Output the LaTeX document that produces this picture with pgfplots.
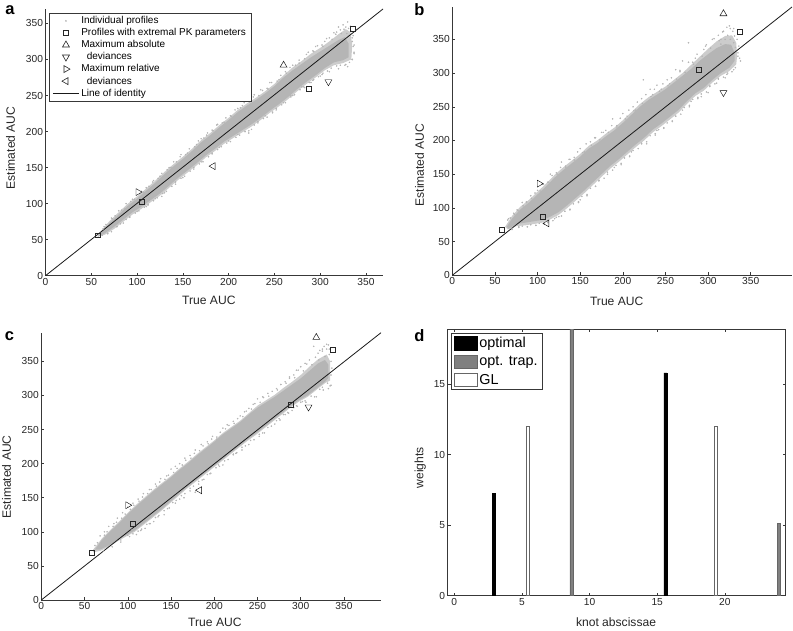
\documentclass[border=0pt]{standalone}
\usepackage{fontspec}
\setmainfont{Liberation Sans}
\usepackage{pgfplots}
\pgfplotsset{compat=1.18}
\definecolor{cloud}{gray}{0.71}
\definecolor{halo}{gray}{0.80}
\definecolor{axc}{gray}{0.22}
\pgfplotsset{
 base/.style={scale only axis, anchor=south west, clip=true,
  tick align=inside, major tick length=3pt, axis line style={axc,line width=0.6pt}, tick style={axc,line width=0.5pt},
  /pgf/number format/assume math mode=true, scaled ticks=false,
  tick label style={font=\fontsize{10.2}{12}\selectfont, color=black!85},
  label style={font=\fontsize{12.1}{14}\selectfont, color=black!85},
  xticklabel style={yshift=1pt}, yticklabel style={xshift=1pt}},
 auc/.style={base, axis lines*=left, xmin=0, ymin=0,
  xtick={0,50,...,350}, ytick={0,50,...,350}, xlabel={True AUC}, ylabel={Estimated AUC}},
 band/.style={forget plot, fill=cloud, draw=none},
 hband/.style={forget plot, fill=halo, draw=none},
 dots/.style={forget plot, only marks, mark=*, mark size=0.55pt, cloud, mark options={draw=none, fill=cloud}},
 idl/.style={forget plot, black!90, line width=0.8pt},
 mk/.style={forget plot, only marks, mark=#1, mark size=4pt, mark options={draw=black!85, fill=none, line width=0.55pt}},
 sq/.style={forget plot, only marks, mark=square, mark size=2.4pt, mark options={draw=black!85, line width=0.7pt}},
}
\pgfplotsset{
 /pgfplots/leg/.style={legend image code/.code={\draw[mark repeat=2,mark phase=2,##1] plot coordinates {(0pt,0pt)(13pt,0pt)(26pt,0pt)};}}
}
\begin{document}
\begin{tikzpicture}[x=1pt,y=1pt]
\path[use as bounding box] (0,0) rectangle (793,630);
% ---------- a
\begin{axis}[auc, at={(45.5pt,354.3pt)}, width=337.5pt, height=266.7pt, xmax=368.6, ymax=370,
 xlabel style={at={(ticklabel cs:0.484)}, yshift=-4pt},
 ylabel style={at={(ticklabel cs:0.479)}, yshift=4pt},
 legend cell align=left,
 legend style={at={(0.0113,0.986)}, anchor=north west, draw=axc, fill=white, line width=0.6pt,
  font=\fontsize{10}{11.9}\selectfont, inner xsep=3pt, inner ysep=1.5pt, row sep=-0.7pt, /tikz/every even column/.append style={column sep=5pt}},
 leg]
\addplot[hband] coordinates {(57,54)(62,64)(70,76)(80,88)(90,100)(100,110)(110,121)(120,132)(130,144)(140,155)(150,165)(160,176)(170,188)(180,198)(190,209)(200,219)(210,230)(220,239)(230,247)(240,256)(250,266)(260,278)(270,289)(280,298)(290,308)(300,316)(310,325)(320,335)(328,342)(333,338)(335,320)(334,300)(325,295)(315,292)(305,285)(295,275)(285,266)(275,256)(265,245)(255,235)(245,226)(235,216)(225,207)(215,199)(205,191)(195,183)(185,173)(175,164)(165,153)(155,143)(145,133)(135,122)(125,111)(115,102)(105,93)(95,85)(85,75)(75,65)(65,57)(57,54)};
\addplot[band] coordinates {(57,54)(62,62)(70,73)(80,85)(90,97)(100,107)(110,118)(120,129)(130,141)(140,152)(150,162)(160,173)(170,185)(180,195)(190,206)(200,216)(210,227)(220,236)(230,244)(240,253)(250,263)(260,275)(270,285)(280,294)(290,303)(300,311)(310,319)(320,327)(327,331)(331,322)(331,303)(325,299)(315,296)(305,288)(295,278)(285,269)(275,259)(265,248)(255,238)(245,229)(235,219)(225,210)(215,202)(205,194)(195,186)(185,176)(175,167)(165,156)(155,146)(145,136)(135,125)(125,114)(115,105)(105,96)(95,88)(85,78)(75,68)(65,59)(57,54)};
\addplot[dots] coordinates {(320,345)(325,348)(330,352)(333,346)(318,338)(310,330)(305,325)(295,318)(285,307)(270,292)(262,283)(245,268)(235,258)(222,242)(210,232)(195,213)(182,202)(170,190)(155,170)(140,158)(125,138)(110,122)(95,106)(80,90)(335,300)(337,310)(337,320)(335,330)(330,290)(320,287)(310,283)(300,277)(290,268)(280,262)(270,250)(260,240)(240,222)(225,203)(222,198)(210,196)(190,178)(170,158)(150,136)(130,115)(120,107)(110,96)(100,89)(85,73)(328,345)(315,337)(302,320)(292,312)(277,295)(255,272)(242,260)(228,251)(215,236)(202,222)(188,210)(176,195)(165,182)(148,168)(135,150)(118,132)(105,117)(88,100)(72,80)(64,68)(327,292)(303,281)(293,272)(283,261)(268,250)(252,232)(248,226)(232,214)(218,200)(200,187)(182,170)(162,150)(142,130)(127,110)(112,98)(92,82)(78,68)(68,58)(62,56)
(63,65)(66,71)(73,79)(76,83)(83,91)(87,93)(93,103)(97,106)(103,114)(107,116)(113,124)(117,130)(123,135)(127,142)(133,147)(137,150)(143,158)(147,165)(153,168)(157,176)(163,179)(167,187)(173,191)(177,198)(183,201)(187,209)(193,212)(197,219)(203,221)(207,230)(213,233)(217,240)(223,241)(227,248)(233,250)(237,257)(243,259)(247,268)(253,270)(257,278)(263,281)(267,289)(273,292)(277,299)(283,301)(287,310)(293,311)(297,319)(303,318)(307,329)(313,328)(317,335)(323,336)(326,342)(329,336)(331,343)(334,339)(322,341)(336,333)(335,325)(336,318)(337,308)
(68,59)(72,61)(78,68)(82,72)(88,78)(92,81)(98,87)(102,90)(108,95)(112,99)(118,104)(122,108)(128,114)(132,117)(138,124)(142,127)(148,135)(152,138)(158,145)(162,148)(168,155)(172,158)(178,165)(182,169)(188,175)(192,179)(198,184)(202,186)(208,192)(212,195)(218,200)(222,201)(228,209)(232,212)(238,218)(242,220)(248,227)(252,230)(258,237)(262,240)(268,248)(272,251)(278,258)(282,262)(288,268)(292,271)(298,276)(302,279)(308,284)(312,288)(318,291)(322,292)(328,293)(332,296)(335,300)};
\addplot[idl] coordinates {(0,0)(368.6,370)};
\addplot[sq] coordinates {(57.5,56)(105.5,103)(288,259)(336,343)};
\addplot[mk=triangle] coordinates {(260,292)};
\addplot[mk=triangle,mark options={rotate=180}] coordinates {(309,269)};
\addplot[mk=triangle,mark options={rotate=-90}] coordinates {(101,116)};
\addplot[mk=triangle,mark options={rotate=90}] coordinates {(183,152)};
\addlegendimage{only marks, mark=*, mark size=0.5pt, cloud, mark options={draw=none,fill=cloud}}
\addlegendentry{Individual profiles}
\addlegendimage{only marks, mark=square, mark size=2.4pt, black!85}
\addlegendentry{Profiles with extremal PK parameters}
\addlegendimage{only marks, mark=triangle, mark size=4pt, black!85}
\addlegendentry{Maximum absolute}
\addlegendimage{only marks, mark=triangle, mark size=4pt, black!85, mark options={rotate=180}}
\addlegendentry{\ \ deviances}
\addlegendimage{only marks, mark=triangle, mark size=4pt, black!85, mark options={rotate=-90}}
\addlegendentry{Maximum relative}
\addlegendimage{only marks, mark=triangle, mark size=4pt, black!85, mark options={rotate=90}}
\addlegendentry{\ \ deviances}
\addlegendimage{black!90, line width=0.7pt}
\addlegendentry{Line of identity}
\end{axis}
% ---------- b
\begin{axis}[auc, at={(452.3pt,354.7pt)}, width=339.7pt, height=268.3pt, xmax=398.4, ymax=398,
 xlabel style={at={(ticklabel cs:0.484)}, yshift=-5pt},
 ylabel style={at={(ticklabel cs:0.411)}, yshift=2pt}]
\addplot[hband] coordinates {(62,72)(70,88)(80,102)(90,112)(100,124)(110,136)(120,149)(130,160)(140,170)(150,180)(160,192)(170,200)(180,210)(190,219)(200,230)(210,242)(220,254)(230,264)(240,272)(250,280)(260,290)(270,300)(280,312)(290,324)(300,336)(310,347)(320,355)(328,356)(333,345)(334,325)(333,313)(325,303)(315,296)(305,286)(295,274)(285,266)(275,254)(265,241)(255,231)(245,221)(235,212)(225,200)(215,190)(205,179)(195,168)(185,158)(175,146)(165,134)(155,122)(145,111)(135,100)(125,90)(115,83)(105,78)(95,76)(85,74)(75,73)(65,68)(62,72)};
\addplot[band] coordinates {(64,72)(70,84)(80,98)(90,108)(100,120)(110,132)(120,145)(130,156)(140,166)(150,176)(160,188)(170,196)(180,206)(190,215)(200,226)(210,238)(220,250)(230,260)(240,268)(250,276)(260,286)(270,296)(280,306)(290,318)(300,328)(310,337)(320,343)(327,342)(331,330)(331,318)(325,308)(315,300)(305,290)(295,278)(285,270)(275,258)(265,245)(255,235)(245,225)(235,216)(225,204)(215,194)(205,183)(195,172)(185,162)(175,150)(165,138)(155,126)(145,115)(135,104)(125,94)(115,87)(105,82)(95,80)(85,78)(75,76)(66,69)(64,72)};
\addplot[dots] coordinates {(325,370)(318,362)(330,366)(312,356)(305,350)(298,342)(285,322)(277,345)(270,318)(262,305)(252,290)(224,290)(240,282)(232,276)(222,262)(212,250)(200,240)(188,232)(175,212)(162,198)(150,188)(138,172)(128,168)(115,150)(105,135)(92,118)(82,108)(72,92)(65,82)(335,325)(338,318)(330,305)(320,293)(310,285)(300,271)(292,265)(280,258)(270,245)(258,228)(240,215)(228,195)(210,183)(190,160)(172,140)(158,118)(150,112)(138,98)(125,87)(112,78)(98,74)(88,72)(78,72)(70,68)(322,368)(315,350)(295,335)(282,316)(267,302)(255,284)(245,276)(235,268)(215,245)(205,236)(193,222)(180,215)(168,204)(155,183)(143,175)(133,160)(122,152)(112,138)(100,126)(87,108)(77,96)(68,85)(323,300)(312,292)(302,280)(288,262)(278,250)(262,236)(248,218)(238,208)(222,196)(208,176)(198,164)(182,150)(168,132)(148,108)(132,95)(120,84)(108,76)
(66,84)(73,90)(76,97)(83,103)(87,109)(93,114)(97,122)(103,125)(107,135)(113,138)(117,148)(123,150)(127,160)(133,162)(137,172)(143,171)(147,183)(153,182)(157,195)(163,193)(167,204)(173,201)(177,212)(183,212)(187,222)(193,220)(197,233)(203,232)(207,245)(213,244)(217,257)(223,255)(227,268)(233,265)(237,276)(243,273)(247,284)(253,281)(257,293)(263,291)(267,304)(273,301)(277,316)(283,313)(287,328)(293,325)(297,340)(303,337)(307,351)(313,348)(317,361)(323,356)(326,366)(329,362)(331,355)(334,350)(336,340)(335,330)(337,322)(320,350)(326,350)(330,345)(332,338)(315,343)
(70,70)(78,71)(82,73)(88,72)(92,75)(98,74)(102,77)(108,76)(112,80)(118,81)(122,86)(128,88)(132,95)(138,97)(142,106)(148,109)(152,117)(158,120)(162,129)(168,132)(172,141)(178,144)(182,153)(188,156)(192,163)(198,166)(202,174)(208,177)(212,185)(218,188)(222,195)(228,198)(232,207)(238,210)(242,216)(248,219)(252,226)(258,229)(262,236)(268,239)(272,249)(278,252)(282,261)(288,264)(292,269)(298,272)(302,281)(308,284)(312,291)(318,294)(322,298)(328,302)(332,308)};
\addplot[idl] coordinates {(0,0)(398.4,398)};
\addplot[sq] coordinates {(58,68)(106,87)(289,305)(337,361)};
\addplot[mk=triangle] coordinates {(318,388)};
\addplot[mk=triangle,mark options={rotate=180}] coordinates {(318,271)};
\addplot[mk=triangle,mark options={rotate=-90}] coordinates {(102,136)};
\addplot[mk=triangle,mark options={rotate=90}] coordinates {(111,77)};
\end{axis}
% ---------- c
\begin{axis}[auc, at={(41.3pt,30pt)}, width=339.7pt, height=267.3pt, xmax=392.8, ymax=392,
 xlabel style={at={(ticklabel cs:0.511)}, yshift=-1pt},
 ylabel style={at={(ticklabel cs:0.461)}, yshift=4pt}]
\addplot[hband] coordinates {(60,74)(70,90)(80,103)(90,115)(100,128)(110,140)(120,151)(130,162)(140,172)(150,182)(160,193)(170,203)(180,214)(190,224)(200,234)(210,245)(220,254)(230,263)(240,274)(250,285)(260,293)(270,301)(280,311)(290,320)(300,330)(310,342)(320,353)(330,360)(334,350)(334,322)(328,318)(318,308)(308,298)(298,291)(288,282)(278,272)(268,262)(258,252)(248,242)(238,233)(228,223)(218,213)(208,203)(198,193)(188,183)(178,173)(168,163)(158,152)(148,141)(138,130)(128,120)(118,110)(108,100)(98,93)(88,86)(78,78)(68,72)(60,70)};
\addplot[band] coordinates {(62,74)(70,88)(80,101)(90,113)(100,126)(110,138)(120,149)(130,160)(140,170)(150,180)(160,191)(170,201)(180,212)(190,222)(200,232)(210,243)(220,252)(230,261)(240,272)(250,282)(260,290)(270,298)(280,307)(290,316)(300,325)(310,336)(320,347)(328,352)(332,345)(332,326)(328,320)(318,310)(308,300)(298,293)(288,284)(278,274)(268,264)(258,254)(248,244)(238,235)(228,225)(218,215)(208,205)(198,195)(188,185)(178,175)(168,165)(158,154)(148,143)(138,132)(128,122)(118,112)(108,102)(98,95)(88,88)(78,80)(68,74)(62,74)};
\addplot[dots] coordinates {(330,375)(325,368)(320,362)(315,372)(333,368)(310,352)(300,342)(292,330)(282,320)(272,310)(262,303)(250,295)(240,281)(230,270)(222,262)(210,252)(198,240)(185,228)(172,212)(160,200)(150,192)(138,178)(125,162)(112,148)(100,136)(88,120)(78,108)(68,94)(62,80)(335,315)(332,310)(325,312)(318,298)(310,305)(300,290)(290,278)(280,272)(270,258)(262,268)(252,240)(245,250)(232,220)(222,213)(210,198)(195,185)(182,170)(172,160)(178,158)(165,150)(155,142)(142,125)(135,122)(125,112)(115,102)(105,103)(100,95)(92,88)(322,366)(305,347)(295,337)(287,325)(277,316)(256,298)(245,287)(235,276)(215,257)(203,236)(192,232)(178,220)(166,208)(155,196)(145,182)(132,170)(118,156)(106,142)(94,128)(84,112)(73,100)(305,292)(295,285)(285,275)(275,266)(258,245)(240,228)(225,215)(205,198)(188,177)(160,148)(148,135)(130,115)(120,105)(110,96)
(65,84)(73,95)(76,100)(83,108)(87,114)(93,120)(97,126)(103,133)(107,139)(113,145)(117,151)(123,156)(127,162)(133,167)(137,173)(143,177)(147,183)(153,187)(157,193)(163,198)(167,205)(173,208)(177,215)(183,219)(187,226)(193,229)(197,236)(203,239)(207,246)(213,251)(217,256)(223,259)(227,266)(233,269)(237,277)(243,280)(247,288)(253,290)(257,297)(263,299)(267,306)(273,308)(277,316)(283,318)(287,327)(293,326)(297,337)(303,336)(307,346)(313,345)(317,356)(321,352)(325,365)(328,357)(330,368)(333,360)(332,374)(327,372)(335,350)(336,340)(335,330)
(72,72)(82,78)(92,85)(102,93)(106,97)(112,101)(116,104)(122,111)(126,112)(132,121)(136,124)(142,131)(146,134)(152,143)(156,146)(162,153)(166,156)(172,164)(176,167)(182,174)(186,176)(192,184)(196,186)(202,194)(206,196)(212,204)(216,206)(222,214)(226,216)(232,224)(236,226)(242,234)(246,235)(252,243)(256,245)(262,253)(266,255)(272,263)(276,264)(282,272)(286,274)(292,282)(296,284)(302,291)(306,290)(312,299)(316,298)(322,309)(326,308)(331,318)(334,314)};
\addplot[idl] coordinates {(0,0)(392.8,392)};
\addplot[sq] coordinates {(58,69)(106,112)(289,286)(337,367)};
\addplot[mk=triangle] coordinates {(318,385)};
\addplot[mk=triangle,mark options={rotate=180}] coordinates {(309,283)};
\addplot[mk=triangle,mark options={rotate=-90}] coordinates {(100,139)};
\addplot[mk=triangle,mark options={rotate=90}] coordinates {(183,161)};
\end{axis}
% ---------- d
\begin{axis}[base, at={(447.7pt,34.3pt)}, width=338pt, height=266.4pt, xmin=-0.49, xmax=24.5, ymin=0, ymax=18.9,
 xtick={0,5,...,20}, ytick={0,5,10,15}, xlabel={knot abscissae}, ylabel={weights},
 xlabel style={at={(ticklabel cs:0.498)}, yshift=-5pt},
 ylabel style={at={(ticklabel cs:0.48)}, yshift=1pt},
 legend cell align=left,
 legend style={at={(0.0098,0.9855)}, anchor=north west, draw=axc, fill=white, line width=0.6pt,
  font=\fontsize{14.4}{18}\selectfont, inner xsep=3pt, inner ysep=2pt, row sep=3pt, /tikz/every even column/.append style={column sep=2pt}},
 legend image code/.code={\draw[#1] (0pt,-6.8pt) rectangle (22.5pt,6.8pt);}]
\addplot[ybar, bar width=3pt, bar shift=0pt, fill=black, draw=black, line width=0.5pt] coordinates {(2.93,7.25)(15.6,15.8)};
\addlegendentry{optimal}
\addplot[ybar, bar width=3.4pt, bar shift=0pt, fill=black!50, draw=black!60, line width=0.5pt] coordinates {(8.67,20)(24.0,5.15)};
\addlegendentry{opt. trap.}
\addplot[ybar, bar width=3pt, bar shift=0pt, fill=white, draw=black!60, line width=0.6pt] coordinates {(5.44,12)(19.3,12)};
\addlegendentry{GL}
\end{axis}
% panel letters
\node[font=\fontsize{16.5}{18}\selectfont\bfseries, anchor=center] at (10,619.5) {a};
\node[font=\fontsize{16.5}{18}\selectfont\bfseries, anchor=center] at (419.5,620.5) {b};
\node[font=\fontsize{16.5}{18}\selectfont\bfseries, anchor=center] at (9.5,293.5) {c};
\node[font=\fontsize{16.5}{18}\selectfont\bfseries, anchor=center] at (419.5,294.5) {d};
\end{tikzpicture}
\end{document}
